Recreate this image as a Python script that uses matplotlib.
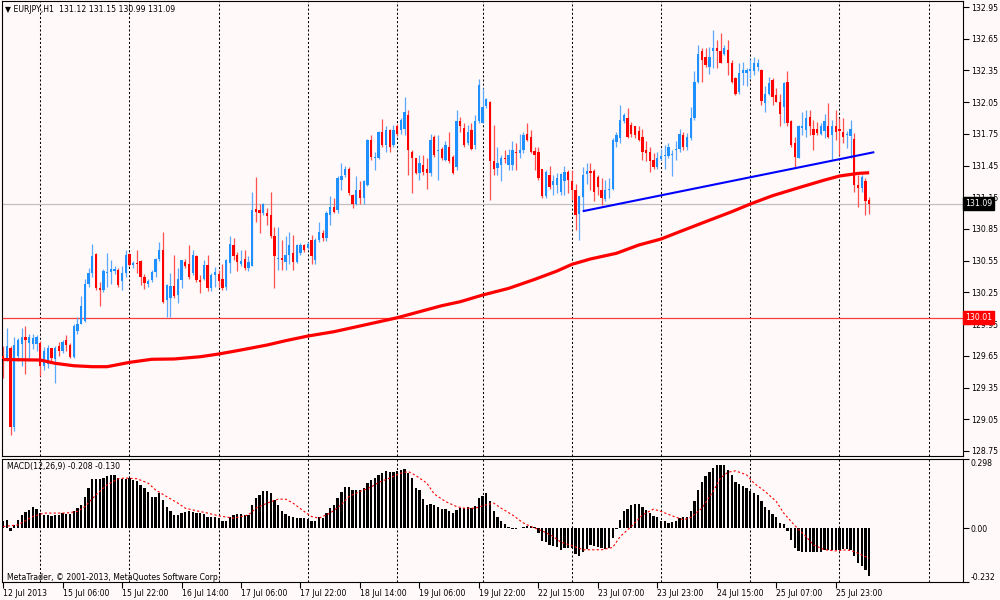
import numpy as np
import pandas as pd
import matplotlib
matplotlib.use("Agg")
import matplotlib.pyplot as plt
from matplotlib.transforms import blended_transform_factory

# trading sessions on the H1 chart: (day, first hour, last hour)
sessions = [("2013-07-12", 13, 22), ("2013-07-15", 0, 23), ("2013-07-16", 0, 23),
            ("2013-07-17", 0, 23), ("2013-07-18", 0, 23), ("2013-07-19", 0, 22),
            ("2013-07-22", 0, 23), ("2013-07-23", 0, 23), ("2013-07-24", 0, 23),
            ("2013-07-25", 0, 23), ("2013-07-26", 0, 8)]

opens = [
    129.65, 129.62, 129.72, 128.98, 129.65, 129.76, 129.83, 129.77, 129.76, 129.76,
    129.77, 129.55, 129.57, 129.72, 129.62, 129.74, 129.70, 129.80, 129.75, 129.64,
    129.88, 129.95, 129.98, 130.33, 130.43, 130.61, 130.29, 130.27, 130.43, 130.44,
    130.45, 130.46, 130.36, 130.43, 130.61, 130.51, 130.53, 130.55, 130.40, 130.33,
    130.37, 130.44, 130.57, 130.65, 130.18, 130.20, 130.31, 130.23, 130.37, 130.54,
    130.52, 130.43, 130.59, 130.37, 130.38, 130.51, 130.29, 130.41, 130.42, 130.38,
    130.30, 130.53, 130.70, 130.60, 130.52, 130.57, 130.48, 130.50, 131.04, 131.03,
    131.00, 131.00, 130.98, 130.78, 130.57, 130.58, 130.54, 130.60, 130.62, 130.54,
    130.62, 130.70, 130.67, 130.75, 130.56, 130.75, 130.81, 130.76, 130.98, 131.06,
    131.03, 131.31, 131.36, 131.42, 131.17, 131.09, 131.22, 131.14, 131.27, 131.69,
    131.52, 131.52, 131.77, 131.64, 131.79, 131.64, 131.82, 131.79, 131.80, 131.93,
    131.58, 131.52, 131.38, 131.46, 131.42, 131.38, 131.72, 131.59, 131.61, 131.50,
    131.63, 131.53, 131.44, 131.87, 131.81, 131.66, 131.79, 131.64, 131.87, 131.85,
    132.01, 132.05, 131.49, 131.43, 131.46, 131.52, 131.46, 131.46, 131.58, 131.57,
    131.60, 131.75, 131.72, 131.59, 131.58, 131.42, 131.16, 131.36, 131.27, 131.27,
    131.20, 131.30, 131.39, 131.30, 131.22, 130.99, 131.15, 131.37, 131.40, 131.40,
    131.34, 131.22, 131.13, 131.22, 131.23, 131.67, 131.71, 131.87, 131.90, 131.83,
    131.82, 131.78, 131.72, 131.60, 131.58, 131.50, 131.44, 131.51, 131.54, 131.54,
    131.55, 131.60, 131.61, 131.74, 131.63, 131.71, 131.90, 132.24, 132.53, 132.48,
    132.38, 132.53, 132.56, 132.53, 132.51, 132.54, 132.42, 132.28, 132.15, 132.33,
    132.33, 132.34, 132.34, 132.38, 132.35, 132.04, 132.13, 132.26, 132.12, 132.05,
    132.00, 132.24, 131.87, 131.66, 131.52, 131.81, 131.79, 131.91, 131.80, 131.80,
    131.75, 131.78, 131.82, 131.74, 131.82, 131.80, 131.77, 131.74, 131.73, 131.70,
    131.27, 131.24, 131.30, 131.12]
highs = [
    129.74, 129.91, 129.74, 129.83, 129.82, 129.91, 129.93, 129.86, 129.86, 129.85,
    129.79, 129.73, 129.75, 129.72, 129.74, 129.78, 129.80, 129.85, 129.77, 129.95,
    130.02, 130.22, 130.38, 130.48, 130.71, 130.62, 130.35, 130.47, 130.62, 130.56,
    130.50, 130.48, 130.50, 130.65, 130.62, 130.55, 130.65, 130.56, 130.42, 130.38,
    130.46, 130.58, 130.73, 130.82, 130.33, 130.43, 130.60, 130.48, 130.56, 130.57,
    130.70, 130.65, 130.60, 130.41, 130.56, 130.60, 130.43, 130.49, 130.46, 130.52,
    130.57, 130.78, 130.76, 130.63, 130.65, 130.65, 130.59, 131.20, 131.34, 131.09,
    131.10, 131.05, 131.20, 130.87, 130.87, 130.75, 130.78, 130.82, 130.79, 130.71,
    130.72, 130.71, 130.73, 130.79, 130.76, 130.92, 130.84, 131.02, 131.16, 131.14,
    131.35, 131.47, 131.45, 131.44, 131.18, 131.35, 131.30, 131.31, 131.70, 131.74,
    131.58, 131.78, 131.89, 131.82, 131.80, 131.83, 131.84, 131.90, 132.10, 131.98,
    131.60, 131.52, 131.55, 131.55, 131.52, 131.75, 131.74, 131.74, 131.63, 131.68,
    131.77, 131.55, 131.98, 131.91, 131.85, 131.83, 131.85, 131.93, 132.27, 132.18,
    132.09, 132.06, 131.83, 131.63, 131.55, 131.60, 131.61, 131.68, 131.66, 131.75,
    131.77, 131.85, 131.79, 131.63, 131.63, 131.42, 131.41, 131.45, 131.36, 131.38,
    131.38, 131.45, 131.41, 131.41, 131.28, 131.16, 131.44, 131.47, 131.47, 131.42,
    131.36, 131.33, 131.31, 131.33, 131.71, 131.77, 132.02, 131.95, 131.99, 131.86,
    131.82, 131.82, 131.80, 131.68, 131.63, 131.57, 131.58, 131.61, 131.64, 131.66,
    131.60, 131.68, 131.80, 131.77, 131.76, 132.00, 132.34, 132.59, 132.56, 132.56,
    132.57, 132.73, 132.64, 132.70, 132.59, 132.64, 132.45, 132.29, 132.42, 132.43,
    132.37, 132.46, 132.48, 132.46, 132.36, 132.20, 132.29, 132.28, 132.18, 132.13,
    132.24, 132.34, 131.88, 131.72, 131.83, 131.96, 131.98, 131.98, 131.88, 131.86,
    131.85, 131.94, 132.04, 131.88, 131.98, 131.90, 131.90, 131.78, 131.88, 131.76,
    131.36, 131.36, 131.33, 131.15]
lows = [
    129.44, 129.60, 128.90, 128.94, 129.60, 129.55, 129.48, 129.60, 129.71, 129.70,
    129.46, 129.52, 129.53, 129.60, 129.39, 129.65, 129.68, 129.70, 129.63, 129.63,
    129.86, 129.95, 129.97, 130.30, 130.40, 130.27, 130.12, 130.25, 130.30, 130.33,
    130.42, 130.30, 130.27, 130.40, 130.50, 130.48, 130.43, 130.32, 130.28, 130.30,
    130.35, 130.40, 130.55, 130.15, 130.02, 130.02, 130.20, 130.15, 130.29, 130.48,
    130.38, 130.41, 130.35, 130.24, 130.37, 130.26, 130.26, 130.30, 130.30, 130.27,
    130.27, 130.43, 130.56, 130.45, 130.50, 130.46, 130.45, 130.50, 130.92, 130.81,
    130.98, 130.89, 130.76, 130.29, 130.46, 130.46, 130.46, 130.52, 130.46, 130.53,
    130.60, 130.63, 130.66, 130.52, 130.52, 130.73, 130.74, 130.74, 130.89, 131.00,
    131.00, 131.22, 131.34, 131.17, 131.05, 131.08, 131.09, 131.09, 131.26, 131.50,
    131.41, 131.51, 131.63, 131.58, 131.58, 131.63, 131.73, 131.75, 131.74, 131.36,
    131.19, 131.37, 131.31, 131.36, 131.23, 131.35, 131.53, 131.31, 131.50, 131.49,
    131.47, 131.37, 131.41, 131.77, 131.63, 131.64, 131.60, 131.61, 131.85, 131.85,
    131.99, 131.12, 131.36, 131.36, 131.30, 131.47, 131.41, 131.41, 131.41, 131.52,
    131.57, 131.68, 131.57, 131.41, 131.31, 131.14, 131.14, 131.23, 131.17, 131.19,
    131.17, 131.17, 131.19, 131.12, 130.84, 130.75, 131.03, 131.28, 131.22, 131.11,
    131.17, 131.08, 131.11, 131.14, 131.22, 131.63, 131.66, 131.85, 131.71, 131.72,
    131.71, 131.68, 131.50, 131.49, 131.39, 131.42, 131.42, 131.50, 131.42, 131.52,
    131.35, 131.50, 131.58, 131.60, 131.60, 131.69, 131.88, 132.23, 132.24, 132.38,
    132.32, 132.37, 132.37, 132.42, 132.50, 132.31, 132.23, 132.12, 132.13, 132.21,
    132.20, 132.28, 132.31, 132.34, 132.02, 131.96, 132.12, 132.02, 132.05, 131.82,
    131.85, 131.82, 131.63, 131.44, 131.52, 131.74, 131.72, 131.74, 131.60, 131.74,
    131.74, 131.71, 131.71, 131.50, 131.69, 131.55, 131.66, 131.62, 131.52, 131.20,
    131.06, 131.20, 130.98, 130.99]
closes = [
    129.62, 129.74, 128.98, 129.75, 129.80, 129.83, 129.80, 129.83, 129.82, 129.83,
    129.55, 129.70, 129.72, 129.63, 129.72, 129.70, 129.78, 129.75, 129.64, 129.93,
    129.95, 130.12, 130.33, 130.43, 130.59, 130.29, 130.27, 130.45, 130.44, 130.47,
    130.47, 130.32, 130.43, 130.60, 130.51, 130.53, 130.52, 130.40, 130.34, 130.36,
    130.44, 130.57, 130.65, 130.16, 130.32, 130.31, 130.22, 130.38, 130.56, 130.50,
    130.40, 130.60, 130.37, 130.35, 130.51, 130.29, 130.41, 130.44, 130.36, 130.29,
    130.56, 130.71, 130.59, 130.54, 130.55, 130.48, 130.54, 131.03, 131.01, 131.00,
    131.09, 130.97, 130.78, 130.59, 130.58, 130.56, 130.60, 130.70, 130.54, 130.70,
    130.70, 130.65, 130.71, 130.59, 130.75, 130.82, 130.76, 131.00, 131.06, 131.01,
    131.33, 131.35, 131.42, 131.19, 131.09, 131.22, 131.14, 131.30, 131.69, 131.53,
    131.53, 131.77, 131.64, 131.79, 131.63, 131.79, 131.75, 131.88, 131.96, 131.60,
    131.52, 131.38, 131.47, 131.39, 131.38, 131.69, 131.55, 131.60, 131.52, 131.64,
    131.49, 131.38, 131.87, 131.82, 131.64, 131.77, 131.61, 131.87, 132.21, 132.00,
    132.08, 131.49, 131.42, 131.47, 131.52, 131.51, 131.55, 131.60, 131.57, 131.60,
    131.74, 131.69, 131.58, 131.55, 131.33, 131.16, 131.39, 131.25, 131.30, 131.33,
    131.37, 131.39, 131.31, 131.22, 130.98, 131.16, 131.36, 131.40, 131.38, 131.20,
    131.25, 131.14, 131.22, 131.23, 131.69, 131.74, 131.88, 131.93, 131.72, 131.75,
    131.74, 131.69, 131.58, 131.57, 131.49, 131.44, 131.52, 131.54, 131.55, 131.63,
    131.56, 131.61, 131.75, 131.63, 131.72, 131.90, 132.24, 132.51, 132.45, 132.40,
    132.48, 132.56, 132.53, 132.42, 132.56, 132.42, 132.24, 132.13, 132.33, 132.35,
    132.35, 132.36, 132.42, 132.42, 132.06, 132.13, 132.23, 132.10, 132.05, 131.94,
    132.23, 131.85, 131.64, 131.53, 131.82, 131.82, 131.90, 131.82, 131.74, 131.76,
    131.82, 131.87, 131.72, 131.82, 131.77, 131.78, 131.72, 131.75, 131.80, 131.27,
    131.24, 131.34, 131.11, 131.09]

# MACD(12,26,9) main line, one value per bar
macd = [
    0.029, 0.036, -0.011, 0.014, 0.036, 0.055, 0.069, 0.079, 0.091, 0.083,
    0.065, 0.055, 0.055, 0.053, 0.056, 0.057, 0.065, 0.060, 0.062, 0.072,
    0.086, 0.101, 0.136, 0.172, 0.211, 0.211, 0.213, 0.218, 0.223, 0.227,
    0.227, 0.216, 0.211, 0.211, 0.216, 0.208, 0.204, 0.187, 0.172, 0.155,
    0.136, 0.136, 0.151, 0.122, 0.093, 0.075, 0.057, 0.057, 0.065, 0.068,
    0.072, 0.068, 0.065, 0.065, 0.060, 0.050, 0.046, 0.046, 0.043, 0.029,
    0.029, 0.046, 0.057, 0.060, 0.060, 0.057, 0.057, 0.101, 0.129, 0.144,
    0.158, 0.162, 0.151, 0.122, 0.101, 0.075, 0.063, 0.053, 0.046, 0.043,
    0.043, 0.043, 0.040, 0.029, 0.032, 0.046, 0.043, 0.065, 0.086, 0.101,
    0.129, 0.154, 0.177, 0.177, 0.165, 0.165, 0.165, 0.172, 0.194, 0.208,
    0.216, 0.230, 0.237, 0.247, 0.244, 0.244, 0.247, 0.249, 0.254, 0.237,
    0.216, 0.172, 0.165, 0.125, 0.101, 0.103, 0.101, 0.093, 0.083, 0.083,
    0.075, 0.065, 0.079, 0.089, 0.089, 0.092, 0.086, 0.096, 0.129, 0.139,
    0.151, 0.115, 0.075, 0.046, 0.032, 0.017, 0.003, -0.003, -0.003, 0.001,
    0.006, 0.011, 0.009, 0.003, -0.022, -0.055, -0.060, -0.072, -0.079, -0.083,
    -0.093, -0.086, -0.086, -0.086, -0.112, -0.118, -0.101, -0.089, -0.072, -0.076,
    -0.083, -0.086, -0.089, -0.086, -0.043, -0.003, 0.036, 0.072, 0.082, 0.101,
    0.103, 0.103, 0.092, 0.079, 0.065, 0.053, 0.046, 0.032, 0.029, 0.022,
    0.026, 0.033, 0.043, 0.046, 0.046, 0.072, 0.115, 0.165, 0.201, 0.223,
    0.244, 0.259, 0.270, 0.270, 0.270, 0.251, 0.227, 0.201, 0.190, 0.180,
    0.172, 0.158, 0.151, 0.144, 0.115, 0.093, 0.079, 0.060, 0.050, 0.022,
    0.019, -0.011, -0.050, -0.086, -0.098, -0.103, -0.101, -0.101, -0.103, -0.103,
    -0.103, -0.093, -0.093, -0.093, -0.093, -0.093, -0.091, -0.091, -0.093, -0.122,
    -0.151, -0.165, -0.180, -0.208]

# MACD signal line (read at a subset of bars)
sig_bars = [0, 4, 8, 11, 17, 20, 22, 25, 28, 31, 33, 36, 39, 41, 44, 47, 49, 52, 55, 58,
            62, 66, 68, 71, 74, 76, 78, 81, 83, 85, 88, 91, 93, 96, 99, 101, 104, 107, 109, 111,
            114, 116, 119, 122, 124, 127, 130, 132, 134, 137, 140, 142, 145, 148, 150, 153, 156, 158, 161, 164,
            166, 169, 172, 175, 177, 180, 183, 185, 188, 191, 193, 195, 197, 200, 202, 205, 208, 210, 213, 216,
            218, 221, 224, 227, 229, 233]
sig_vals = [0.007, 0.014, 0.050, 0.065, 0.065, 0.072, 0.093, 0.144, 0.187, 0.213,
            0.216, 0.213, 0.194, 0.165, 0.136, 0.108, 0.086, 0.075, 0.065, 0.053,
            0.043, 0.057, 0.086, 0.108, 0.125, 0.125, 0.108, 0.072, 0.050, 0.043,
            0.065, 0.101, 0.136, 0.158, 0.177, 0.197, 0.216, 0.237, 0.244, 0.227,
            0.194, 0.147, 0.115, 0.093, 0.086, 0.086, 0.101, 0.108, 0.086, 0.057,
            0.022, 0.007, -0.011, -0.036, -0.060, -0.075, -0.093, -0.093, -0.093, -0.083,
            -0.036, 0.007, 0.057, 0.082, 0.072, 0.053, 0.036, 0.046, 0.086, 0.158,
            0.216, 0.241, 0.247, 0.230, 0.194, 0.158, 0.115, 0.065, 0.011, -0.036,
            -0.072, -0.093, -0.098, -0.093, -0.101, -0.130]

# red moving average (read at a subset of bars)
ma_bars = [0, 10, 14, 19, 24, 28, 34, 40, 46, 53, 58, 64, 71, 76, 82, 89, 96, 106, 112, 118,
           123, 129, 136, 143, 149, 153, 158, 165, 171, 177, 182, 189, 196, 201, 207, 214, 221, 225, 230, 233]
ma_vals = [129.615, 129.610, 129.579, 129.556, 129.547, 129.547, 129.588, 129.617, 129.620, 129.641,
           129.667, 129.705, 129.752, 129.793, 129.837, 129.878, 129.932, 130.010, 130.067, 130.124,
           130.162, 130.225, 130.288, 130.373, 130.452, 130.515, 130.566, 130.620, 130.698, 130.755,
           130.824, 130.919, 131.013, 131.086, 131.165, 131.240, 131.313, 131.351, 131.376, 131.382]

# drawn objects
trend_bars = [156.2, 234.1]
trend_prices = [131.02, 131.575]
level_line = 130.01

times = []
for day, h0, h1 in sessions:
    for h in range(h0, h1 + 1):
        times.append(pd.Timestamp(day) + pd.Timedelta(hours=h))
times = pd.DatetimeIndex(times)

o = np.array(opens)
h = np.array(highs)
l = np.array(lows)
c = np.array(closes)
idx = np.arange(len(c))

bg = "#fff9f9"
plt.rcParams["font.family"] = "DejaVu Sans"
fs = 5.6

fig = plt.figure(figsize=(10, 6), dpi=100, facecolor=bg)
ax = fig.add_axes([0.002, 1 - 456 / 600, 0.961, 455 / 600], facecolor=bg)
ax2 = fig.add_axes([0.002, 1 - 582 / 600, 0.961, 123 / 600], facecolor=bg)

xlim = (-0.30, 258.24)
day_starts = list(idx[times.hour == 0])
day_starts.append(day_starts[-1] + 24)
for a in (ax, ax2):
    a.set_xlim(*xlim)
    for g in day_starts:
        a.axvline(g, color="black", lw=0.75, ls=(0, (2, 2)), zorder=1)
    for s in a.spines.values():
        s.set_color("black")
        s.set_linewidth(0.8)

# candles
up = c >= o
body_col = np.where(up, "#1e90ff", "#ff0000")
wick_col = np.where(up, "#5aa9ff", "#ff5050")
ax.vlines(idx, l, h, colors=wick_col, lw=0.9, zorder=2)
ax.bar(idx, np.maximum(np.abs(c - o), 0.009), bottom=np.minimum(o, c), width=0.62,
       color=body_col, linewidth=0, zorder=3)

ax.axhline(level_line, color="#ff3a3a", lw=0.9, zorder=1.5)
ax.axhline(c[-1], color="#c0c0c0", lw=0.9, zorder=1.5)
ax.plot(ma_bars, ma_vals, color="#ff0000", lw=2.3, zorder=4, solid_capstyle="butt",
        solid_joinstyle="round")
ax.plot(trend_bars, trend_prices, color="#0000ff", lw=1.5, zorder=5)

ax.set_ylim(128.702, 133.007)
yt = np.round(np.arange(128.75, 132.96, 0.30), 2)
ax.yaxis.tick_right()
ax.set_yticks(yt)
ax.set_yticklabels([f"{v:.2f}" for v in yt])
ax.tick_params(axis="y", direction="out", length=4, width=0.8, pad=1.5, labelsize=fs)
ax.tick_params(axis="x", length=0, labelbottom=False)

tr = blended_transform_factory(ax.transAxes, ax.transData)
ax.text(1.0025, c[-1], f"{c[-1]:.2f}", transform=tr, ha="left", va="center", color="white",
        fontsize=fs, zorder=6, clip_on=False,
        bbox=dict(boxstyle="square,pad=0.25", fc="black", ec="black"))
ax.text(1.0025, level_line, f"{level_line:.2f}", transform=tr, ha="left", va="center", color="white",
        fontsize=fs, zorder=6, clip_on=False,
        bbox=dict(boxstyle="square,pad=0.25", fc="#ff0000", ec="#ff0000"))

# MACD window
ax2.bar(idx, macd, width=0.62, color="black", linewidth=0, zorder=2)
ax2.plot(sig_bars, sig_vals, color="#ff0000", lw=0.8, ls=(0, (2, 2)), zorder=3)
ax2.set_ylim(-0.232, 0.298)
ax2.yaxis.tick_right()
ax2.set_yticks([0.298, 0.0, -0.232])
ax2.set_yticklabels(["0.298", "0.00", "-0.232"])
ax2.tick_params(axis="y", direction="out", length=4, width=0.8, pad=1.5, labelsize=fs)
labs = ax2.get_yticklabels()
labs[0].set_va("top")
labs[2].set_va("bottom")

xt = idx[::16]
xl = [times[0].strftime("%d %b %Y")] + [t.strftime("%d %b %H:%M") for t in times[xt[1:]]]
ax2.set_xticks(xt)
ax2.set_xticklabels(xl, ha="left")
ax2.tick_params(axis="x", direction="out", length=4, width=0.8, pad=0.8, labelsize=fs)

fig.text(0.005, 1 - 10 / 600,
         f"\u25bc EURJPY,H1  {o[-1]:.2f} {h[-1]:.2f} {l[-1]:.2f} {c[-1]:.2f}",
         fontsize=fs, va="center", ha="left")
fig.text(0.007, 1 - 467 / 600, f"MACD(12,26,9) {macd[-1]:.3f} {sig_vals[-1]:.3f}",
         fontsize=fs, va="center", ha="left")
fig.text(0.007, 1 - 577 / 600, "MetaTrader, \u00a9 2001-2013, MetaQuotes Software Corp.",
         fontsize=fs, va="center", ha="left")

fig.savefig("out.png", dpi=100, facecolor=bg)
